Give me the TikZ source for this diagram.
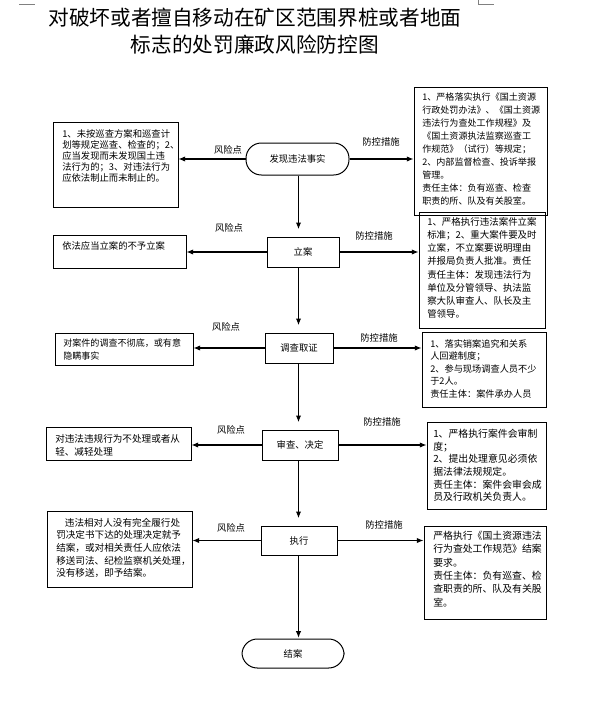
\documentclass[tikz,border=0pt]{standalone}
\usepackage{fontspec}
\setmainfont{Noto Sans CJK SC}
\usetikzlibrary{arrows.meta,fit}
\begin{document}
\begin{tikzpicture}[x=0.75pt,y=-0.75pt,
  box/.style={draw,line width=0.75pt,inner sep=0pt},
  stad/.style={draw,line width=0.75pt,inner sep=0pt,rounded corners=11.5pt},
  txt/.style={anchor=north west,inner sep=0pt,align=left,font=\fontsize{7}{9.6}\selectfont},
  mtxt/.style={font=\fontsize{7}{8}\selectfont},
  lab/.style={inner sep=0pt,font=\fontsize{7}{8}\selectfont},
  arr/.style={-{Latex[length=5pt,width=4pt]},line width=0.8pt},
  varr/.style={arr,shorten >=5.5pt},
  cornermark/.style={draw=gray,line width=0.6pt}]
\useasboundingbox (0,0) rectangle (590,718);
% corner marks
\draw[cornermark] (19,4) -- (35,4);
\draw[cornermark] (478,0) -- (478,4) -- (494,4);
% title
\node[align=center,inner sep=0pt,font=\fontsize{15.5}{20.3}\selectfont] (title) at (255,31)
  {对破坏或者擅自移动在矿区范围界桩或者地面\\标志的处罚廉政风险防控图};
% main flow nodes
\node[stad,fit={(246,143) (349,175)},label={[mtxt]center:发现违法事实}] (n1) {};
\node[box,fit={(267,237) (339,267)},label={[mtxt]center:立案}] (n2) {};
\node[box,fit={(265,333) (333,363)},label={[mtxt]center:调查取证}] (n3) {};
\node[box,fit={(262,430) (338,460)},label={[mtxt]center:审查、决定}] (n4) {};
\node[box,fit={(261,526) (337,555)},label={[mtxt]center:执行}] (n5) {};
\node[stad,fit={(242,639) (344,668)},label={[mtxt]center:结案}] (n6) {};
\coordinate (spine) at (298.5,0);
% left boxes (risk points)
\node[box,fit={(53,122) (178,207)}] (L1) {};
\node[txt,font=\fontsize{7}{8.25}\selectfont] (tL1) at (62,129) {1、未按巡查方案和巡查计\\划等规定巡查、检查的；2、\\应当发现而未发现国土违\\法行为的；3、对违法行为\\应依法制止而未制止的。};
\node[box,fit={(53,235) (186,268)}] (L2) {};
\node[txt] (tL2) at (62,241) {依法应当立案的不予立案};
\node[box,fit={(55,333) (193,365)}] (L3) {};
\node[txt,font=\fontsize{6.8}{9.75}\selectfont] (tL3) at (63,339) {对案件的调查不彻底，或有意\\隐瞒事实};
\node[box,fit={(46,427) (191,460)}] (L4) {};
\node[txt,font=\fontsize{7.2}{9.9}\selectfont] (tL4) at (55,434) {对违法违规行为不处理或者从\\轻、减轻处理};
\node[box,fit={(47,511) (192,587)}] (L5) {};
\node[txt,font=\fontsize{7.2}{9.4}\selectfont] (tL5) at (56,518) {\hspace*{6.5pt}违法相对人没有完全履行处\\罚决定书下达的处理决定就予\\结案，或对相关责任人应依法\\移送司法、纪检监察机关处理，\\没有移送，即予结案。};
% right boxes (control measures)
\node[box,fit={(414,87) (547,215)}] (R1) {};
\node[txt,font=\fontsize{6.8}{9.7}\selectfont] (tR1) at (422,93) {1、严格落实执行《国土资源\\行政处罚办法》、《国土资源\\违法行为查处工作规程》及\\《国土资源执法监察巡查工\\作规范》（试行）等规定；\\2、内部监督检查、投诉举报\\管理。\\责任主体：负有巡查、检查\\职责的所、队及有关股室。};
\node[box,fit={(419,212) (545,328)}] (R2) {};
\node[txt,font=\fontsize{7.1}{9.9}\selectfont] (tR2) at (427,217) {1、严格执行违法案件立案\\标准；2、重大案件要及时\\立案，不立案要说明理由\\并报局负责人批准。责任\\责任主体：发现违法行为\\单位及分管领导、执法监\\察大队审查人、队长及主\\管领导。};
\node[box,fit={(422,332) (546,407)}] (R3) {};
\node[txt,font=\fontsize{6.9}{9.4}\selectfont] (tR3) at (430,339) {1、落实销案追究和关系\\人回避制度；\\2、参与现场调查人员不少\\于2人。\\责任主体：案件承办人员};
\node[box,fit={(427,422) (546,509)}] (R4) {};
\node[txt,font=\fontsize{7.4}{9.5}\selectfont] (tR4) at (433,429) {1、严格执行案件会审制\\度；\\2、提出处理意见必须依\\据法律法规规定。\\责任主体：案件会审会成\\员及行政机关负责人。};
\node[box,fit={(424,526) (546,619)}] (R5) {};
\node[txt,font=\fontsize{7.4}{10}\selectfont] (tR5) at (433,531) {严格执行《国土资源违法\\行为查处工作规范》结案\\要求。\\责任主体：负有巡查、检\\查职责的所、队及有关股\\室。};
% vertical flow
\draw[varr] (spine |- n1.south) -- (spine |- n2.north);
\draw[varr] (spine |- n2.south) -- (spine |- n3.north);
\draw[varr] (spine |- n3.south) -- (spine |- n4.north);
\draw[varr] (spine |- n4.south) -- (spine |- n5.north);
\draw[arr,shorten >=0.5pt] (spine |- n5.south) -- (spine |- n6.north);
% horizontal arrows
\draw[arr] (n1.west) -- (n1.west -| L1.east);
\draw[arr] (n1.east) -- (n1.east -| R1.west);
\draw[arr] (n2.west) -- (n2.west -| L2.east);
\draw[arr] (n2.east) -- (n2.east -| R2.west);
\draw[arr] (n3.west) -- (n3.west -| L3.east);
\draw[arr] (n3.east) -- (n3.east -| R3.west);
\draw[arr] (n4.west) -- (n4.west -| L4.east);
\draw[arr] (n4.east) -- (n4.east -| R4.west);
\draw[arr] (n5.west) -- (n5.west -| L5.east);
\draw[arr] (n5.east) -- (n5.east -| R5.west);
% labels
\node[lab] (k1) at (228,150) {风险点};
\node[lab] (p1) at (381,142) {防控措施};
\node[lab] (k2) at (229,228) {风险点};
\node[lab] (p2) at (374,236) {防控措施};
\node[lab] (k3) at (226,327) {风险点};
\node[lab] (p3) at (379,338) {防控措施};
\node[lab] (k4) at (231,430) {风险点};
\node[lab] (p4) at (382,422) {防控措施};
\node[lab] (k5) at (231,528) {风险点};
\node[lab] (p5) at (384,525) {防控措施};
\end{tikzpicture}
\end{document}
